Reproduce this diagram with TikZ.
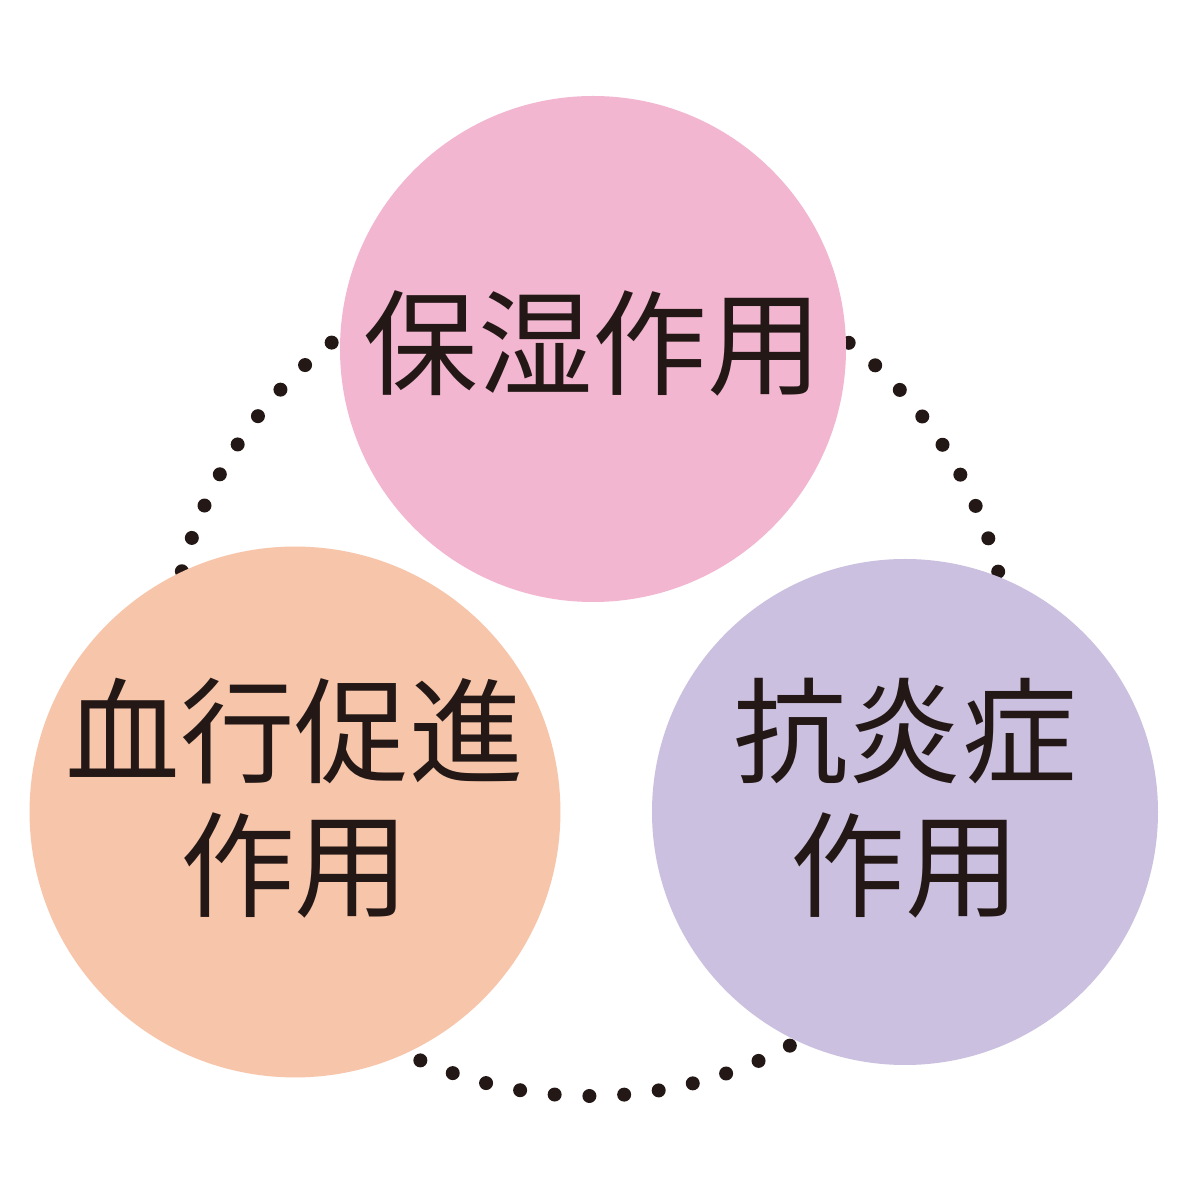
\documentclass[tikz,border=0pt]{standalone}
\usepackage{fontspec}
\newfontfamily\cjk{Noto Sans CJK JP}
\definecolor{pinkc}{HTML}{F2B6D0}
\definecolor{peachc}{HTML}{F7C5AA}
\definecolor{lavc}{HTML}{CBC0DF}
\definecolor{inkc}{HTML}{231815}
\tikzset{
  effect/.style={circle, minimum size=50.6mm, inner sep=0pt, text=inkc,
    font=\cjk\fontsize{32.6pt}{36pt}\selectfont, align=center},
}
\begin{document}
\begin{tikzpicture}
  \useasboundingbox (0,0) rectangle (12,12);
  \fill[white] (0,0) rectangle (12,12);
  % dotted ring behind the circles
  \coordinate (ring) at (5.90,5.25);
  \draw[inkc, line width=1.4mm, line cap=round, dash pattern=on 0pt off 3.48mm] (ring) circle (4.21);
  \node[effect, fill=pinkc] (moist) at (5.93,8.51) {\raisebox{2mm}{保湿作用}};
  \node[effect, fill=peachc] (blood) at (2.95,3.88) {\raisebox{-2mm}{\begin{tabular}{@{}c@{}}血行促進\\作用\end{tabular}}};
  \node[effect, fill=lavc] (anti) at (9.05,3.88) {\raisebox{-1mm}{\begin{tabular}{@{}c@{}}抗炎症\\作用\end{tabular}}};
\end{tikzpicture}
\end{document}
